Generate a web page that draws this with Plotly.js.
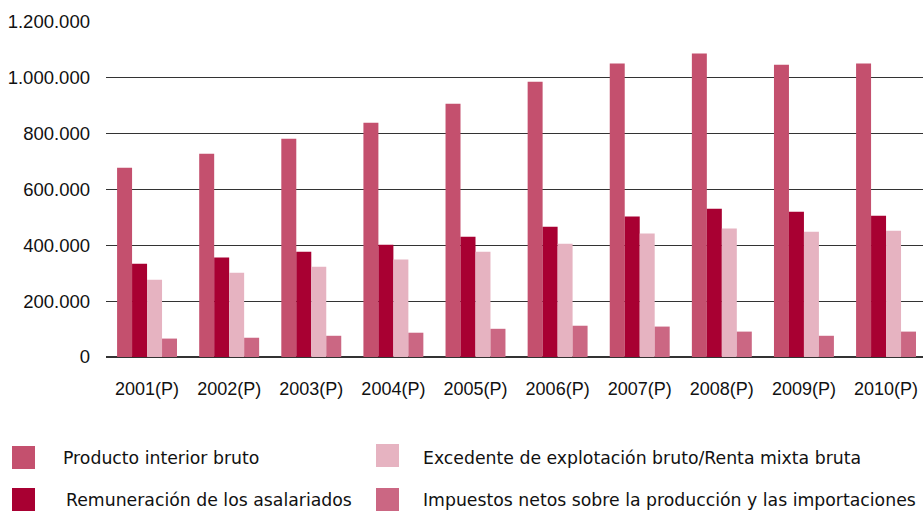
<!DOCTYPE html>
<html>
<head>
<meta charset="utf-8">
<script src="https://cdn.plot.ly/plotly-3.0.1.min.js"></script>
<style>html,body{margin:0;padding:0;background:#fff;}#chart{width:923px;height:511px;}</style>
</head>
<body>
<div id="chart"></div>
<script>
var years = ["2001(P)","2002(P)","2003(P)","2004(P)","2005(P)","2006(P)","2007(P)","2008(P)","2009(P)","2010(P)"];
var pib = [678000, 728000, 782000, 839000, 907000, 986000, 1051000, 1087000, 1047000, 1051000];
var remuneracion = [334000, 356000, 377000, 402000, 431000, 467000, 503000, 531000, 520000, 506000];
var excedente = [277000, 302000, 323000, 349000, 377000, 406000, 442000, 460000, 449000, 452000];
var impuestos = [66000, 69000, 76000, 87000, 101000, 112000, 109000, 91000, 76000, 91000];
var seriesNames = ["Producto interior bruto", "Remuneración de los asalariados", "Excedente de explotación bruto/Renta mixta bruta", "Impuestos netos sobre la producción y las importaciones"];
var seriesColors = ["#C4506E", "#A80032", "#E6B3C1", "#CB6783"];
var yTicks = [0, 200000, 400000, 600000, 800000, 1000000, 1200000];

var W = 923, H = 511;
var mL = 106, mR = 0, mT = 22, mB = 154;
var pw = W - mL - mR, ph = H - mT - mB;
function px(x){ return (x - mL) / pw; }
function py(y){ return (H - mB - y) / ph; }

var data = [pib, remuneracion, excedente, impuestos].map(function(vals, i){
  return {type:'bar', x: years, y: vals, name: seriesNames[i],
    marker:{color: seriesColors[i], line:{width:0}}, showlegend:false, hoverinfo:'skip'};
});

// custom legend (squares + labels)
var legendPos = [
  {sx:12, sy:446, tx:61, ty:458},
  {sx:12, sy:488, tx:64, ty:500},
  {sx:376, sy:444, tx:421, ty:458},
  {sx:376, sy:488, tx:421, ty:500}
];
var shapes = [], annotations = [];
legendPos.forEach(function(p, i){
  shapes.push({type:'rect', xref:'paper', yref:'paper', x0:px(p.sx), x1:px(p.sx+23), y0:py(p.sy), y1:py(p.sy+23),
    fillcolor: seriesColors[i], line:{width:0}});
  annotations.push({xref:'paper', yref:'paper', x:px(p.tx), y:py(p.ty), xanchor:'left', yanchor:'middle',
    text: seriesNames[i], showarrow:false, font:{family:'DejaVu Sans', size:17.3, color:'#111'}});
});

var layout = {
  width: W, height: H,
  margin: {l:mL, r:mR, t:mT, b:mB, pad:0},
  paper_bgcolor:'#fff', plot_bgcolor:'#fff',
  separators: ',.',
  barmode:'group', bargap:0.27, bargroupgap:0,
  xaxis: {type:'category', range:[-0.5, 9.45], showgrid:false, showline:false, zeroline:false,
    ticks:'', ticklabelstandoff:19, tickfont:{family:'Liberation Sans', size:18, color:'#111'}, fixedrange:true},
  yaxis: {range:[0, 1200000], tickvals: yTicks, tickformat:',d', showgrid:true, gridcolor:'#333', gridwidth:1.3,
    zeroline:true, zerolinecolor:'#333', zerolinewidth:1.5, showline:false, ticks:'', ticklabelstandoff:15,
    tickfont:{family:'Liberation Sans', size:18.5, color:'#111'}, fixedrange:true},
  shapes: shapes,
  annotations: annotations,
  showlegend:false
};
Plotly.newPlot('chart', data, layout, {displayModeBar:false, staticPlot:true});
</script>
</body>
</html>
